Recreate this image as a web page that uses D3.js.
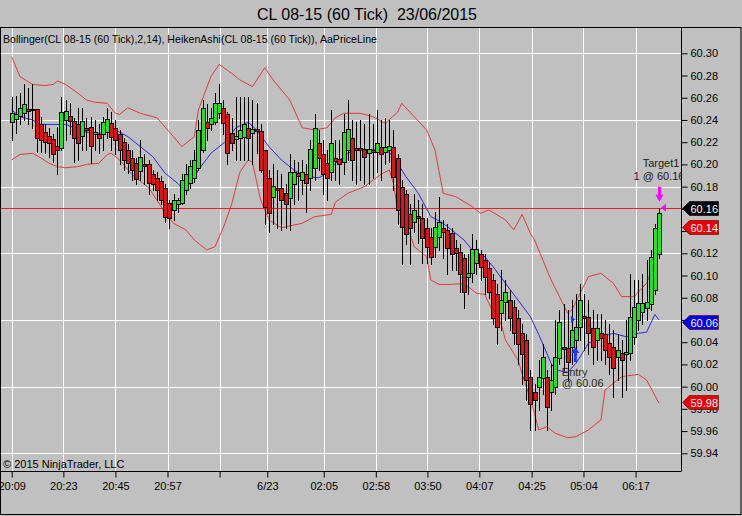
<!DOCTYPE html>
<html><head><meta charset="utf-8">
<script src="https://cdn.jsdelivr.net/npm/d3@7"></script>
<style>body{margin:0;background:#c0c0c0;} svg{display:block;font-family:"Liberation Sans",Arial,sans-serif;}</style>
</head><body><svg id="c" width="742" height="516"></svg>
<script>
// Heiken Ashi bars (price)
const haOpen = [60.238,60.241,60.244,60.246,60.250,60.250,60.250,60.236,60.229,60.226,60.223,60.217,60.215,60.240,60.244,60.239,60.236,60.226,60.233,60.234,60.227,60.227,60.227,60.229,60.237,60.233,60.227,60.220,60.213,60.206,60.201,60.194,60.200,60.200,60.191,60.188,60.185,60.179,60.165,60.159,60.164,60.165,60.177,60.183,60.188,60.197,60.213,60.238,60.236,60.238,60.246,60.251,60.245,60.228,60.223,60.224,60.225,60.233,60.228,60.232,60.230,60.213,60.188,60.171,60.179,60.179,60.174,60.170,60.182,60.192,60.186,60.191,60.188,60.197,60.219,60.209,60.201,60.193,60.206,60.205,60.202,60.213,60.224,60.215,60.215,60.214,60.210,60.213,60.211,60.216,60.211,60.213,60.216,60.206,60.180,60.173,60.155,60.148,60.154,60.152,60.143,60.135,60.126,60.135,60.143,60.141,60.138,60.125,60.121,60.116,60.099,60.102,60.111,60.119,60.114,60.107,60.096,60.083,60.066,60.076,60.078,60.072,60.062,60.048,60.042,60.009,59.995,60.000,60.008,60.009,59.995,60.000,60.026,60.036,60.035,60.036,60.042,60.054,60.064,60.063,60.053,60.042,60.048,60.047,60.039,60.036,60.027,60.030,60.029,60.030,60.045,60.060,60.067,60.071,60.074,60.087,60.119];
const haHigh = [60.261,60.262,60.264,60.272,60.269,60.272,60.250,60.243,60.236,60.233,60.227,60.234,60.261,60.258,60.255,60.242,60.251,60.251,60.242,60.243,60.240,60.236,60.243,60.251,60.247,60.240,60.231,60.224,60.218,60.213,60.206,60.222,60.209,60.204,60.195,60.193,60.190,60.182,60.168,60.173,60.170,60.191,60.200,60.204,60.213,60.240,60.258,60.254,60.251,60.264,60.272,60.258,60.247,60.242,60.261,60.261,60.261,60.261,60.258,60.255,60.236,60.213,60.195,60.200,60.195,60.191,60.182,60.209,60.204,60.202,60.204,60.200,60.222,60.245,60.231,60.222,60.213,60.249,60.222,60.222,60.245,60.258,60.240,60.238,60.240,60.236,60.245,60.236,60.249,60.240,60.242,60.240,60.231,60.209,60.186,60.177,60.164,60.173,60.168,60.164,60.152,60.143,60.157,60.171,60.150,60.146,60.143,60.132,60.128,60.119,60.119,60.137,60.132,60.123,60.119,60.112,60.101,60.092,60.105,60.096,60.087,60.078,60.069,60.056,60.047,60.015,60.002,60.024,60.038,60.015,60.020,60.060,60.069,60.074,60.069,60.078,60.083,60.092,60.083,60.078,60.069,60.065,60.065,60.060,60.056,60.051,60.047,60.042,60.060,60.101,60.096,60.096,60.101,60.114,60.123,60.146,60.161];
const haLow = [60.222,60.228,60.236,60.240,60.236,60.233,60.211,60.211,60.210,60.207,60.202,60.191,60.213,60.222,60.227,60.202,60.204,60.213,60.213,60.201,60.213,60.210,60.213,60.224,60.213,60.209,60.200,60.195,60.192,60.186,60.182,60.186,60.182,60.173,60.177,60.168,60.164,60.148,60.143,60.150,60.157,60.164,60.173,60.179,60.184,60.195,60.211,60.222,60.231,60.236,60.242,60.227,60.200,60.213,60.204,60.204,60.204,60.204,60.200,60.210,60.193,60.146,60.139,60.146,60.143,60.141,60.143,60.141,60.164,60.168,60.173,60.157,60.177,60.186,60.195,60.173,60.168,60.186,60.186,60.182,60.191,60.204,60.186,60.182,60.186,60.182,60.182,60.188,60.193,60.186,60.200,60.202,60.177,60.146,60.110,60.128,60.110,60.139,60.129,60.111,60.111,60.110,60.117,60.123,60.116,60.101,60.105,60.105,60.085,60.071,60.083,60.094,60.101,60.096,60.083,60.080,60.056,60.038,60.051,60.060,60.051,60.038,60.020,60.002,59.988,59.961,59.961,59.979,59.993,59.961,59.979,59.993,60.020,60.015,60.006,60.020,60.029,60.042,60.033,60.029,60.020,60.024,60.024,60.020,60.011,59.991,60.006,59.991,59.997,60.024,60.038,60.051,60.056,60.060,60.069,60.083,60.116];
const haClose = [60.246,60.245,60.251,60.254,60.248,60.249,60.224,60.222,60.220,60.219,60.209,60.213,60.247,60.248,60.239,60.224,60.219,60.239,60.231,60.217,60.229,60.224,60.238,60.241,60.225,60.222,60.213,60.204,60.201,60.195,60.187,60.207,60.199,60.183,60.182,60.177,60.168,60.153,60.152,60.168,60.168,60.186,60.191,60.199,60.204,60.231,60.251,60.233,60.242,60.255,60.255,60.237,60.210,60.219,60.226,60.231,60.236,60.224,60.232,60.230,60.195,60.162,60.156,60.181,60.177,60.168,60.164,60.193,60.193,60.190,60.193,60.183,60.214,60.233,60.206,60.191,60.188,60.219,60.203,60.200,60.229,60.232,60.204,60.213,60.213,60.207,60.214,60.211,60.219,60.209,60.216,60.217,60.189,60.159,60.144,60.137,60.143,60.159,60.152,60.134,60.126,60.117,60.144,60.148,60.139,60.125,60.119,60.120,60.101,60.085,60.102,60.124,60.124,60.108,60.099,60.085,60.062,60.054,60.078,60.085,60.062,60.048,60.038,60.029,60.006,59.984,59.988,60.009,60.027,59.982,60.006,60.027,60.058,60.034,60.022,60.051,60.054,60.078,60.062,60.048,60.036,60.053,60.044,60.033,60.027,60.017,60.033,60.024,60.031,60.063,60.072,60.075,60.075,60.076,60.117,60.143,60.156];

// Bollinger(2,14) read at bar indices
const upperBar = [0,2,5,8,10,11,13,16,18,20,23,25,26,28,31,35,39,41,44,45,48,50,53,55,58,61,63,67,70,73,76,78,80,84,87,90,93,94,97,100,102,104,107,111,113,115,119,121,123,125,126,130,134,135,139,142,145,147,150,153,155,156];
const upperVal = [60.297,60.279,60.272,60.271,60.272,60.275,60.272,60.264,60.258,60.256,60.255,60.246,60.245,60.251,60.246,60.242,60.225,60.216,60.225,60.249,60.279,60.290,60.282,60.276,60.270,60.287,60.276,60.258,60.233,60.231,60.233,60.242,60.246,60.246,60.243,60.237,60.247,60.255,60.243,60.231,60.213,60.174,60.171,60.162,60.156,60.159,60.150,60.141,60.155,60.138,60.132,60.096,60.066,60.069,60.099,60.102,60.093,60.081,60.081,60.093,60.112,60.143];
const midBar = [0,2,5,7,10,13,15,18,21,25,28,31,34,37,40,41,43,45,48,52,54,57,59,62,65,68,71,74,76,78,81,83,86,89,91,93,95,98,101,104,106,109,111,114,116,119,122,125,127,130,131,134,136,139,142,145,148,151,153,155,156];
const midVal = [60.249,60.243,60.240,60.236,60.236,60.236,60.233,60.229,60.228,60.231,60.225,60.216,60.207,60.192,60.183,60.179,60.183,60.195,60.210,60.222,60.233,60.238,60.231,60.216,60.204,60.195,60.189,60.188,60.192,60.201,60.210,60.214,60.213,60.213,60.211,60.201,60.189,60.174,60.153,60.147,60.141,60.132,60.123,60.117,60.108,60.093,60.078,60.063,60.047,60.021,60.015,60.013,60.021,60.039,60.045,60.048,60.045,60.048,60.049,60.065,60.060];
const lowerBar = [0,2,5,7,9,11,13,16,18,21,23,24,26,29,33,35,37,39,42,44,47,49,51,53,55,57,58,60,62,65,70,73,77,78,81,85,89,91,92,93,96,97,100,101,103,106,109,112,114,116,118,119,122,124,126,127,129,131,134,136,139,142,143,145,147,151,153,156];
const lowerVal = [60.204,60.209,60.210,60.206,60.201,60.198,60.197,60.198,60.200,60.201,60.209,60.210,60.204,60.191,60.179,60.168,60.156,60.147,60.141,60.132,60.123,60.126,60.143,60.164,60.193,60.204,60.202,60.168,60.150,60.143,60.147,60.153,60.155,60.166,60.174,60.180,60.191,60.195,60.183,60.159,60.137,60.126,60.117,60.096,60.092,60.092,60.093,60.084,60.083,60.067,60.056,60.042,60.024,60.000,59.976,59.961,59.964,59.958,59.954,59.955,59.961,59.970,59.997,60.003,60.009,60.011,60.006,59.985];

// axes
const yTicks = [60.30,60.28,60.26,60.24,60.22,60.20,60.18,60.16,60.14,60.12,60.10,60.08,60.06,60.04,60.02,60.00,59.98,59.96,59.94];
const yGrid = [60.30,60.24,60.18,60.12,60.06,60.00,59.94];
const xTickPos = [0,12.45,25,37.55,50.1,61.6,75.2,87.75,100.2,112.7,125.3,137.8,150.35];
const xTickLabels = ["20:09","20:23","20:45","20:57","","6/23","02:05","02:58","03:50","04:07","04:25","05:04","06:17"];

// price markers on axis
const markerPos = [60.161,60.144,60.058,59.986];
const markerText = ["60.16","60.14","60.06","59.98"];
const markerFill = ["#000000","#e80000","#0000e8","#e80000"];
const coveredTicks = ["60.16","60.14"];
const priceLine = 60.16;
const entryBar = 135, entryPrice = 60.06;
const targetBar = 156, targetPrice = 60.16;

const svg = d3.select("#c");
const W = 742, H = 516;
const plotR = 681.5, plotT = 27.5, plotB = 471.5;
const x = d3.scaleLinear().domain([0, haOpen.length - 1]).range([11.7, 659]);
const y = d3.scaleLinear().domain([59.94, 60.30]).range([453.3, 53.3]);

svg.append("rect").attr("width", W).attr("height", H).attr("fill", "#c0c0c0");

svg.append("text").attr("x", 367).attr("y", 20).attr("text-anchor", "middle")
  .attr("font-size", 16).style("white-space", "pre").text("CL 08-15 (60 Tick)  23/06/2015");

svg.append("defs").append("clipPath").attr("id", "clip")
  .append("rect").attr("x", 0).attr("y", plotT).attr("width", plotR).attr("height", plotB - plotT);

const plot = svg.append("g").attr("clip-path", "url(#clip)");

// grid
plot.selectAll("line.hg").data(yGrid).join("line")
  .attr("x1", 0).attr("x2", plotR)
  .attr("y1", d => Math.round(y(d)) + 0.5).attr("y2", d => Math.round(y(d)) + 0.5)
  .attr("stroke", "#ffffff").attr("stroke-width", 1);
plot.selectAll("line.vg").data(xTickPos).join("line")
  .attr("y1", plotT).attr("y2", plotB)
  .attr("x1", d => Math.round(x(d)) + 0.5).attr("x2", d => Math.round(x(d)) + 0.5)
  .attr("stroke", "#ffffff").attr("stroke-width", 1);

// legend + copyright
svg.append("text").attr("x", 3).attr("y", 43).attr("font-size", 11)
  .attr("textLength", 374).attr("lengthAdjust", "spacingAndGlyphs")
  .text("Bollinger(CL 08-15 (60 Tick),2,14), HeikenAshi(CL 08-15 (60 Tick)), AaPriceLine");
svg.append("text").attr("x", 3).attr("y", 468).attr("font-size", 11)
  .text("\u00A9 2015 NinjaTrader, LLC");

// bands
const line = d3.line().x(d => x(d[0])).y(d => y(d[1]));
const band = (bars, vals, col) => plot.append("path")
  .attr("d", line(bars.map((b, k) => [b, vals[k]])))
  .attr("fill", "none").attr("stroke", col).attr("stroke-width", 1);
band(upperBar, upperVal, "#e23a3a");
band(lowerBar, lowerVal, "#e23a3a");
band(midBar, midVal, "#2828e6");

// price line
plot.append("line").attr("x1", 0).attr("x2", plotR)
  .attr("y1", Math.round(y(priceLine)) - 0.5).attr("y2", Math.round(y(priceLine)) - 0.5)
  .attr("stroke", "#ee1c1c").attr("stroke-width", 1);

// annotation texts (drawn beneath bars)
const ex = x(entryBar), ey = y(entryPrice);
plot.append("text").attr("x", ex - 10).attr("y", ey + 56).attr("font-size", 11).attr("fill", "#2a2a2a").text("Entry");
plot.append("text").attr("x", ex - 10).attr("y", ey + 67).attr("font-size", 11).attr("fill", "#2a2a2a").text("@ 60.06");
const tx = x(targetBar), ty = y(targetPrice);
plot.append("text").attr("x", tx + 2).attr("y", ty - 42).attr("text-anchor", "middle").attr("font-size", 11).attr("fill", "#1a1a1a").text("Target1");
plot.append("text").attr("x", tx).attr("y", ty - 29).attr("text-anchor", "middle").attr("font-size", 11).attr("fill", "#1a1a1a").text("1 @ 60.16");

// candles
const bars = d3.range(haOpen.length).map(i => ({i, o: haOpen[i], h: haHigh[i], l: haLow[i], c: haClose[i]}));
const cg = plot.append("g");
cg.selectAll("line.w").data(bars).join("line")
  .attr("x1", d => Math.round(x(d.i)) + 0.5).attr("x2", d => Math.round(x(d.i)) + 0.5)
  .attr("y1", d => Math.round(y(d.h))).attr("y2", d => Math.round(y(d.l)) + 1)
  .attr("stroke", "#000").attr("stroke-width", 1);
cg.selectAll("rect.b").data(bars).join("rect")
  .attr("x", d => Math.round(x(d.i)) - 1.5)
  .attr("width", 4)
  .attr("y", d => Math.round(y(Math.max(d.o, d.c))) + 0.5)
  .attr("height", d => Math.max(1, Math.round(y(Math.min(d.o, d.c))) - Math.round(y(Math.max(d.o, d.c)))))
  .attr("fill", d => d.c >= d.o ? "#1fe61f" : "#dc1414")
  .attr("stroke", "#000").attr("stroke-width", 1);

// entry markers (blue)
plot.append("path").attr("d", `M${ex - 1},${ey - 4} L${ex + 3.5},${ey - 0.5} L${ex - 1},${ey + 3} Z`).attr("fill", "#1a3cff");
plot.append("path").attr("d", `M${ex + 3.5},${ey + 27} L${ex + 7.5},${ey + 33} L${ex + 5},${ey + 33} L${ex + 5},${ey + 42} L${ex + 2},${ey + 42} L${ex + 2},${ey + 33} L${ex - 0.5},${ey + 33} Z`).attr("fill", "#1a3cff");

// target markers (magenta)
plot.append("path").attr("d", `M${tx - 1},${ty - 22} L${tx + 2},${ty - 22} L${tx + 2},${ty - 14} L${tx + 4.5},${ty - 14} L${tx + 0.5},${ty - 7} L${tx - 3.5},${ty - 14} L${tx - 1},${ty - 14} Z`).attr("fill", "#ff00ff");
plot.append("path").attr("d", `M${tx + 2},${ty - 1} L${tx + 7},${ty - 5} L${tx + 7},${ty + 3} Z`).attr("fill", "#ff00ff");

// axes
const fmt = d3.format(".2f");
const yAxis = svg.append("g").attr("transform", `translate(${plotR},0)`)
  .call(d3.axisRight(y).tickValues(yTicks).tickSize(6).tickPadding(3)
    .tickFormat(d => coveredTicks.includes(fmt(d)) ? "" : fmt(d)));
yAxis.select(".domain").remove();
yAxis.selectAll("text").attr("font-size", 11).attr("font-family", "Liberation Sans, Arial, sans-serif").attr("fill", "#000");
yAxis.selectAll("line").attr("stroke", "#000");

const xAxis = svg.append("g").attr("transform", `translate(0,${plotB})`)
  .call(d3.axisBottom(x).tickValues(xTickPos).tickSize(6).tickPadding(5).tickFormat((d, k) => xTickLabels[k]));
xAxis.select(".domain").remove();
xAxis.selectAll("text").attr("font-size", 11).attr("font-family", "Liberation Sans, Arial, sans-serif").attr("fill", "#000");
xAxis.selectAll("line").attr("stroke", "#000");

svg.append("line").attr("x1", plotR).attr("x2", plotR).attr("y1", plotT).attr("y2", plotB).attr("stroke", "#000");
svg.append("line").attr("x1", 0).attr("x2", plotR).attr("y1", plotB).attr("y2", plotB).attr("stroke", "#000");
svg.append("rect").attr("x", 0.5).attr("y", plotT).attr("width", W - 1.5).attr("height", 514.5 - plotT)
  .attr("fill", "none").attr("stroke", "#000");

// axis price markers
const mk = svg.append("g");
markerPos.forEach((v, k) => {
  const cy = Math.round(y(v)) + 0.5;
  mk.append("path").attr("d", `M${plotR + 1},${cy} L${plotR + 8},${cy - 7} L${plotR + 37},${cy - 7} L${plotR + 37},${cy + 7} L${plotR + 8},${cy + 7} Z`)
    .attr("fill", markerFill[k]).attr("stroke", k === 0 ? "#000" : "#500").attr("stroke-width", 0.6);
  mk.append("text").attr("x", plotR + 9).attr("y", cy + 4).attr("font-size", 11).attr("fill", "#fff").text(markerText[k]);
});
</script></body></html>
